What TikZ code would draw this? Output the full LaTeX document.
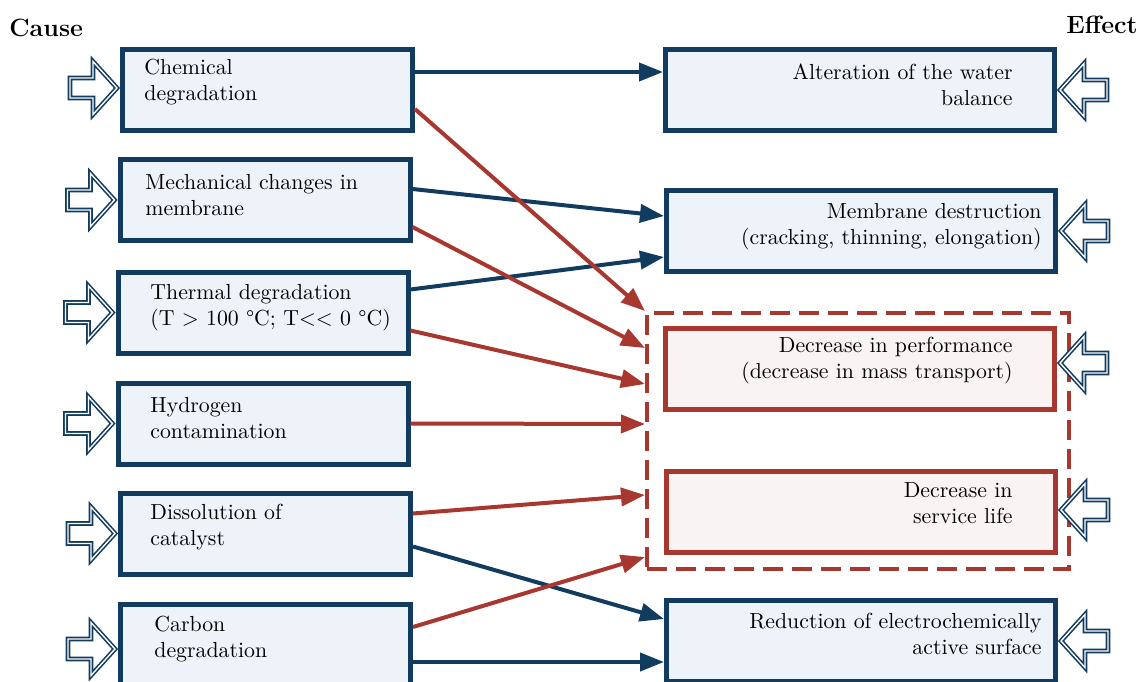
\documentclass[tikz,border=0pt]{standalone}
\usepackage{tikz}
\usetikzlibrary{calc,arrows.meta}

\definecolor{navy}{HTML}{123B60}
\definecolor{rust}{HTML}{A8372F}
\definecolor{paleblue}{HTML}{EEF3FA}
\definecolor{palered}{HTML}{FAF3F3}

\begin{document}
\begin{tikzpicture}[x=0.5pt,y=-0.5pt,
  causebox/.style={draw=navy,fill=paleblue,line width=2.5pt,minimum width=145pt,minimum height=40.5pt,inner sep=0pt},
  effectbox/.style={causebox,minimum width=194.5pt},
  lossbox/.style={effectbox,draw=rust,fill=palered},
  txt/.style={text=black,font=\fontsize{10.9}{13}\selectfont,inner sep=0pt},
  headtxt/.style={text=black,font=\fontsize{12.5}{14}\selectfont\bfseries,inner sep=0pt},
  blueline/.style={draw=navy,line width=2pt,-{Triangle[length=12pt,width=9pt]}},
  redline/.style={blueline,draw=rust},
  hollow/.pic={\draw[navy,fill=white,line width=0.8pt,double=white,double distance=0.7pt,line join=miter]
    (-3,0) -- (-27,-26.5) -- (-27,-10) -- (-50,-10) -- (-50,10) -- (-27,10) -- (-27,26.5) -- cycle;}
]
\useasboundingbox (0,0) rectangle (1141,681);
\clip (0,0) rectangle (1141,681);

\node[headtxt,anchor=west] (cause) at (9,28) {Cause};
\node[headtxt,anchor=east] (effect) at (1138,25) {Effect};

% causes
\node[causebox] (chem)  at (267.5,90)  {};
\node[causebox] (mech)  at (265,200)   {};
\node[causebox] (therm) at (263,312.5) {};
\node[causebox] (hydro) at (263,423.5) {};
\node[causebox] (diss)  at (265.5,533.5) {};
\node[causebox] (carb)  at (265.5,645) {};

\node[txt,anchor=west,align=left] (chemt)  at (144,82.5) {Chemical\\degradation};
\node[txt,anchor=west,align=left] (mecht)  at (145,195)  {Mechanical changes in\\membrane};
\node[txt,anchor=west,align=left] (thermt) at (150,308)  {Thermal degradation\\(T > 100 \textdegree C; T<\kern0pt< 0 \textdegree C)};
\node[txt,anchor=west,align=left] (hydrot) at (150,418)  {Hydrogen\\contamination};
\node[txt,anchor=west,align=left] (disst)  at (150,527)  {Dissolution of\\catalyst};
\node[txt,anchor=west,align=left] (carbt)  at (154,639)  {Carbon\\degradation};

% effects
\node[draw=rust,line width=2pt,dash pattern=on 10pt off 4.5pt,minimum width=211pt,minimum height=128pt,inner sep=0pt] (grp) at (858,441) {};
\node[effectbox] (alter) at (860,90)  {};
\node[effectbox] (membr) at (861,231) {};
\node[lossbox]   (perf)  at (860,369) {};
\node[lossbox]   (serv)  at (861,512) {};
\node[effectbox] (reduc) at (861,641) {};

\node[txt,anchor=east,align=right] (altert) at (1013,85)    {Alteration of the water\\balance};
\node[txt,anchor=east,align=right] (membrt) at (1042,226.5) {Membrane destruction\\(cracking, thinning, elongation)};
\node[txt,anchor=east,align=right] (perft)  at (1013,361)   {Decrease in performance\\(decrease in mass transport)};
\node[txt,anchor=east,align=right] (servt)  at (1013,503)   {Decrease in\\service life};
\node[txt,anchor=east,align=right] (reduct) at (1042,634)   {Reduction of electrochemically\\active surface};

% hollow input arrows
\pic at ($(chem.west)+(0,-2)$) {hollow};
\pic at (mech.west) {hollow};
\pic at (therm.west) {hollow};
\pic at (hydro.west) {hollow};
\pic at (diss.west) {hollow};
\pic at ($(carb.west)+(0,4)$) {hollow};
\pic[xscale=-1] at (alter.east) {hollow};
\pic[xscale=-1] at (membr.east) {hollow};
\pic[xscale=-1] at ($(perf.east)+(0,-6)$) {hollow};
\pic[xscale=-1] at ($(serv.east)+(0,-2)$) {hollow};
\pic[xscale=-1] at (reduc.east) {hollow};

% links
\draw[blueline] ($(chem.east)+(0,-18)$) -- ($(alter.west)+(0,-18)$);
\draw[blueline] ($(mech.east)+(0,-11)$) -- ($(membr.west)+(0,-15)$);
\draw[blueline] ($(therm.east)+(0,-23)$) -- ($(membr.west)+(0,26)$);
\draw[blueline] ($(diss.east)+(0,13)$) -- ($(reduc.west)+(0,-22)$);
\draw[blueline] ($(carb.east)+(0,17)$) -- ($(reduc.west)+(0,21)$);

\draw[redline] ($(chem.east)+(0,19)$) -- (grp.north west);
\draw[redline] ($(mech.east)+(0,27)$) -- ($(grp.west)+(0,-93)$);
\draw[redline] ($(therm.east)+(0,18)$) -- ($(grp.west)+(0,-57)$);
\draw[redline] (hydro.east) -- ($(grp.west)+(0,-17)$);
\draw[redline] ($(diss.east)+(0,-20)$) -- ($(grp.west)+(0,54)$);
\draw[redline] ($(carb.east)+(0,-18)$) -- ($(grp.west)+(0,116)$);
\end{tikzpicture}
\end{document}
